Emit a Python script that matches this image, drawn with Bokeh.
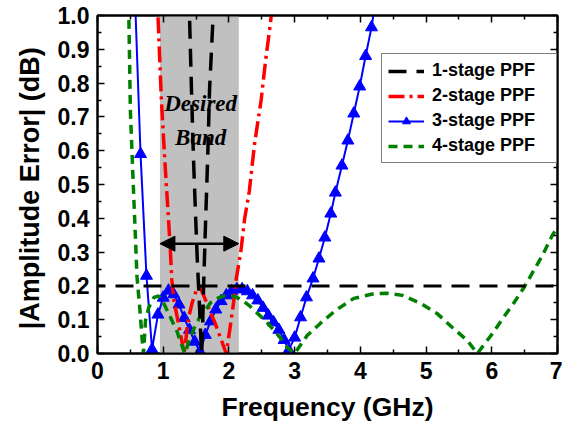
from bokeh.plotting import figure
from bokeh.models import (Range1d, LinearAxis, FixedTicker, NumeralTickFormatter, Span,
                          BoxAnnotation, Arrow, NormalHead, Legend, LegendItem)
from bokeh.core.properties import value
from bokeh.embed import file_html
from bokeh.resources import INLINE

# ---------------- data ----------------
x_ticks = [0, 1, 2, 3, 4, 5, 6, 7]
x_minor = [0.5, 1.5, 2.5, 3.5, 4.5, 5.5, 6.5]
y_ticks = [0.0, 0.1, 0.2, 0.3, 0.4, 0.5, 0.6, 0.7, 0.8, 0.9, 1.0]
y_minor = [0.05, 0.15, 0.25, 0.35, 0.45, 0.55, 0.65, 0.75, 0.85, 0.95]

threshold = 0.2
band_lo, band_hi = 0.95, 2.15
arrow_y = 0.325
band_text = ["Desired", "Band"]
band_text_x = [1.57, 1.57]
band_text_y = [0.74, 0.64]

s1_f = [1.36, 1.40, 1.43, 1.46, 1.49, 1.52, 1.55, 1.57, 1.585, 1.60, 1.615, 1.64, 1.66, 1.68, 1.705, 1.735, 1.76, 1.78]
s1_e = [1.15, 1.00, 0.78, 0.58, 0.42, 0.27, 0.15, 0.06, 0.00, 0.08, 0.20, 0.36, 0.48, 0.60, 0.78, 0.90, 1.00, 1.10]

s2_f = [0.90, 0.92, 0.97, 1.01, 1.05, 1.08, 1.11, 1.13, 1.16, 1.20, 1.25, 1.32, 1.38, 1.44, 1.50, 1.56,
        1.62, 1.70, 1.79, 1.87, 1.96, 2.02, 2.07, 2.11, 2.18, 2.24, 2.31, 2.39, 2.49, 2.56, 2.63, 2.66]
s2_e = [1.08, 1.00, 0.76, 0.62, 0.49, 0.40, 0.30, 0.22, 0.16, 0.12, 0.07, 0.00, 0.10, 0.15, 0.185, 0.195,
        0.17, 0.13, 0.09, 0.047, 0.00, 0.08, 0.15, 0.22, 0.30, 0.40, 0.48, 0.62, 0.75, 0.87, 0.975, 1.03]

s3_f = [0.562, 0.655, 0.745, 0.83, 0.92, 1.00, 1.08, 1.16, 1.24, 1.32, 1.40, 1.48, 1.56, 1.64, 1.72, 1.80,
        1.88, 1.96, 2.04, 2.12, 2.20, 2.28, 2.36, 2.44, 2.52, 2.60, 2.68, 2.76, 2.84, 2.91, 3.00, 3.09,
        3.18, 3.28, 3.37, 3.46, 3.55, 3.62, 3.72, 3.81, 3.90, 3.99, 4.08, 4.17, 4.22]
s3_e = [1.10, 0.59, 0.23, 0.012, 0.115, 0.165, 0.186, 0.175, 0.145, 0.105, 0.07, 0.035, 0.005, 0.055, 0.095, 0.13,
        0.155, 0.172, 0.184, 0.19, 0.19, 0.184, 0.172, 0.157, 0.135, 0.112, 0.092, 0.07, 0.04, 0.01, 0.047, 0.107,
        0.166, 0.222, 0.281, 0.343, 0.414, 0.476, 0.556, 0.63, 0.71, 0.79, 0.88, 0.965, 1.03]

s4_f = [0.45, 0.477, 0.50, 0.54, 0.58, 0.60, 0.65, 0.68, 0.70, 0.73, 0.78, 0.86, 0.93, 1.01, 1.11, 1.21,
        1.29, 1.33, 1.39, 1.47, 1.55, 1.63, 1.72, 1.82, 1.92, 2.02, 2.12, 2.22, 2.32, 2.44, 2.56, 2.68,
        2.80, 2.90, 3.00, 3.19, 3.39, 3.62, 3.90, 4.21, 4.41, 4.64, 4.92, 5.17, 5.40, 5.63, 5.78, 6.01,
        6.18, 6.34, 6.49, 6.64, 6.77, 6.92, 6.97]
s4_e = [1.12, 1.00, 0.72, 0.52, 0.33, 0.23, 0.118, 0.04, 0.00, 0.098, 0.136, 0.166, 0.17, 0.148, 0.107, 0.065,
        0.02, 0.00, 0.035, 0.075, 0.105, 0.125, 0.15, 0.163, 0.17, 0.172, 0.166, 0.155, 0.14, 0.118, 0.096, 0.07,
        0.042, 0.015, 0.00, 0.053, 0.089, 0.127, 0.163, 0.177, 0.178, 0.172, 0.148, 0.118, 0.077, 0.038, 0.00, 0.059,
        0.107, 0.151, 0.195, 0.246, 0.29, 0.349, 0.365]

# ---------------- figure ----------------
FONT = "Liberation Sans"
p = figure(width=562, height=430, output_backend="svg", toolbar_location=None,
           x_range=Range1d(0, 7), y_range=Range1d(0, 1),
           min_border_left=97, min_border_right=5, min_border_top=15, min_border_bottom=77)
p.background_fill_color = "white"
p.border_fill_color = "white"
p.outline_line_color = "black"
p.outline_line_width = 2
p.grid.visible = False


def style_axis(ax, ticks, minor, fmt, show_labels=True):
    ax.ticker = FixedTicker(ticks=ticks, minor_ticks=minor)
    ax.formatter = NumeralTickFormatter(format=fmt)
    ax.axis_line_color = "black"
    ax.axis_line_width = 2
    ax.major_tick_in = 7
    ax.major_tick_out = 0
    ax.minor_tick_in = 4
    ax.minor_tick_out = 0
    ax.major_tick_line_width = 1.5
    ax.minor_tick_line_width = 1.5
    ax.major_tick_line_color = "black"
    ax.minor_tick_line_color = "black"
    ax.major_label_text_font = FONT
    ax.major_label_text_font_style = "bold"
    if show_labels:
        ax.major_label_text_color = "black"
        ax.major_label_text_font_size = "23px"
        ax.major_label_standoff = 8
    else:
        ax.major_label_text_color = None
        ax.major_label_text_font_size = "1px"
        ax.major_label_standoff = 0


style_axis(p.xaxis[0], x_ticks, x_minor, "0")
style_axis(p.yaxis[0], y_ticks, y_minor, "0.0")
p.xaxis[0].major_label_standoff = 8
p.xaxis[0].axis_label = "Frequency (GHz)"
p.yaxis[0].axis_label = "|Amplitude Error|  (dB)"
for ax in (p.xaxis[0], p.yaxis[0]):
    ax.axis_label_text_font = FONT
    ax.axis_label_text_font_style = "bold"
    ax.axis_label_text_color = "black"
p.xaxis[0].axis_label_text_font_size = "26.5px"
p.yaxis[0].axis_label_text_font_size = "27px"
p.xaxis[0].axis_label_standoff = 10
p.yaxis[0].axis_label_standoff = 10

top = LinearAxis()
style_axis(top, x_ticks, x_minor, "0", show_labels=False)
p.add_layout(top, "above")
right = LinearAxis()
style_axis(right, y_ticks, y_minor, "0.0", show_labels=False)
p.add_layout(right, "right")

# shaded desired band
p.add_layout(BoxAnnotation(left=band_lo, right=band_hi, fill_color="#c0c0c0", fill_alpha=1.0,
                           line_color=None, level="underlay"))

p.text(x=band_text_x, y=band_text_y, text=band_text, text_font=value("Liberation Serif"),
       text_font_style="bold italic", text_font_size="23px", text_color="black",
       text_align="center", text_baseline="middle")

p.add_layout(Arrow(start=NormalHead(size=15, fill_color="black", line_color="black"),
                   end=NormalHead(size=15, fill_color="black", line_color="black"),
                   x_start=band_lo, x_end=band_hi, y_start=arrow_y, y_end=arrow_y,
                   line_width=2.5, line_color="black"))

p.add_layout(Span(location=threshold, dimension="width", line_color="black",
                  line_width=3, line_dash="18 10", line_dash_offset=10))

# curves
r3l = p.line(s3_f, s3_e, line_color="blue", line_width=2)
r3m = p.scatter(s3_f, s3_e, marker="triangle", size=12, fill_color="blue", line_color="blue")
r2 = p.line(s2_f, s2_e, line_color="red", line_width=3.5, line_dash="16 5 3 5")
r4 = p.line(s4_f, s4_e, line_color="green", line_width=3.5, line_dash="9 6")
r1 = p.line(s1_f, s1_e, line_color="black", line_width=3.5, line_dash="18 10")

legend = Legend(items=[LegendItem(label="1-stage PPF", renderers=[r1]),
                       LegendItem(label="2-stage PPF", renderers=[r2]),
                       LegendItem(label="3-stage PPF", renderers=[r3l, r3m]),
                       LegendItem(label="4-stage PPF", renderers=[r4])],
                location=(284, 190))
legend.margin = 0
legend.padding = 6
legend.spacing = 4
legend.glyph_width = 36
legend.glyph_height = 20
legend.label_height = 20
legend.label_width = 118
legend.label_standoff = 8
legend.border_line_color = "black"
legend.border_line_width = 1.5
legend.background_fill_color = "white"
legend.background_fill_alpha = 1.0
legend.label_text_font = FONT
legend.label_text_font_style = "bold"
legend.label_text_font_size = "18px"
legend.label_text_color = "black"
p.add_layout(legend)

open("out.html", "w").write(file_html(p, INLINE))
